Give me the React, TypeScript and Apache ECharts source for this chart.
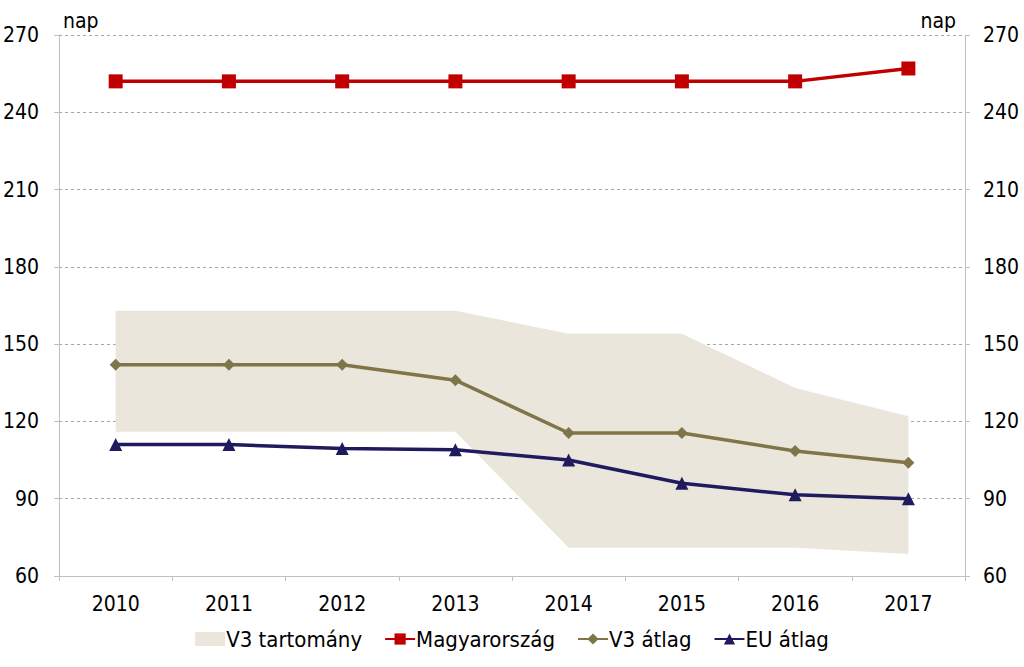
import React, { useEffect, useRef } from "react";
import * as echarts from "echarts";

const years = ["2010", "2011", "2012", "2013", "2014", "2015", "2016", "2017"];
const hungary = [252, 252, 252, 252, 252, 252, 252, 257];
const v3Avg = [142, 142, 142, 136, 115.5, 115.5, 108.5, 104];
const euAvg = [111, 111, 109.5, 109, 105, 96, 91.5, 90];
const v3Min = [116, 116, 116, 116, 71, 71, 71, 68.5];
const v3Max = [163, 163, 163, 163, 154, 154, 133, 122];
const yTicks = { min: 60, max: 270, interval: 30 };
const unitLabel = "nap";

const FONT = "'DejaVu Sans Condensed', 'DejaVu Sans', sans-serif";
const BAND = "#EAE6DC";
const RED = "#C00000";
const OLIVE = "#7F7548";
const NAVY = "#1F1B5E";
const AXIS = "#BFBFBF";

export default function App() {
  const ref = useRef<HTMLDivElement>(null);
  useEffect(() => {
    if (!ref.current) return;
    const chart = echarts.init(ref.current, undefined, { renderer: "svg" });
    const bandDiff = v3Max.map((v, i) => +(v - v3Min[i]).toFixed(2));
    const yAxisBase = (position: string) => ({
      type: "value",
      position,
      min: yTicks.min,
      max: yTicks.max,
      interval: yTicks.interval,
      axisLine: { show: true, lineStyle: { color: AXIS, width: 1 } },
      axisTick: { show: true, length: 5, lineStyle: { color: AXIS } },
      axisLabel: { color: "#000", fontSize: 21, fontFamily: FONT, margin: position === "left" ? 20 : 18 },
      splitLine: position === "left"
        ? { show: true, lineStyle: { color: "#A6A6A6", type: [3, 3], width: 1 } }
        : { show: false },
    });
    chart.setOption({
      animation: false,
      textStyle: { fontFamily: FONT },
      grid: { left: 58, right: 59, top: 35, bottom: 91, containLabel: false },
      legend: {
        bottom: 12,
        left: "center",
        itemGap: 22,
        itemWidth: 30,
        itemHeight: 14,
        textStyle: { fontSize: 22, fontFamily: FONT, color: "#000", padding: [0, 0, 0, -4] },
        data: [
          { name: "V3 tartomány", icon: "rect", itemStyle: { color: BAND } },
          { name: "Magyarország" },
          { name: "V3 átlag" },
          { name: "EU átlag" },
        ],
      },
      graphic: [
        { type: "text", left: 63, top: 10, style: { text: unitLabel, fontSize: 21, fontFamily: FONT, fill: "#000" } },
        { type: "text", right: 68, top: 10, style: { text: unitLabel, fontSize: 21, fontFamily: FONT, fill: "#000" } },
      ],
      xAxis: {
        type: "category",
        data: years,
        boundaryGap: true,
        axisLine: { show: true, lineStyle: { color: AXIS, width: 1 } },
        axisTick: { show: true, length: 5, alignWithLabel: false, lineStyle: { color: AXIS } },
        axisLabel: { color: "#000", fontSize: 21, fontFamily: FONT, margin: 17 },
        splitLine: { show: false },
      },
      yAxis: [yAxisBase("left"), yAxisBase("right")],
      series: [
        {
          name: "v3min",
          type: "line",
          stack: "band",
          data: v3Min,
          symbol: "none",
          lineStyle: { width: 0, opacity: 0 },
          areaStyle: { opacity: 0 },
          silent: true,
        },
        {
          name: "V3 tartomány",
          type: "line",
          stack: "band",
          data: bandDiff,
          symbol: "none",
          itemStyle: { color: BAND },
          lineStyle: { width: 0, opacity: 0 },
          areaStyle: { color: BAND, opacity: 1 },
          silent: true,
        },
        {
          name: "Magyarország",
          type: "line",
          data: hungary,
          symbol: "rect",
          symbolSize: 14,
          itemStyle: { color: RED },
          lineStyle: { color: RED, width: 3.5 },
          z: 5,
        },
        {
          name: "V3 átlag",
          type: "line",
          data: v3Avg,
          symbol: "diamond",
          symbolSize: 12,
          itemStyle: { color: OLIVE },
          lineStyle: { color: OLIVE, width: 3.5 },
          z: 5,
        },
        {
          name: "EU átlag",
          type: "line",
          data: euAvg,
          symbol: "triangle",
          symbolSize: 13,
          itemStyle: { color: NAVY },
          lineStyle: { color: NAVY, width: 3.5 },
          z: 6,
        },
      ],
    });
    return () => chart.dispose();
  }, []);
  return <div ref={ref} style={{ width: 1024, height: 667, position: "absolute", left: 0, top: 0 }} />;
}
